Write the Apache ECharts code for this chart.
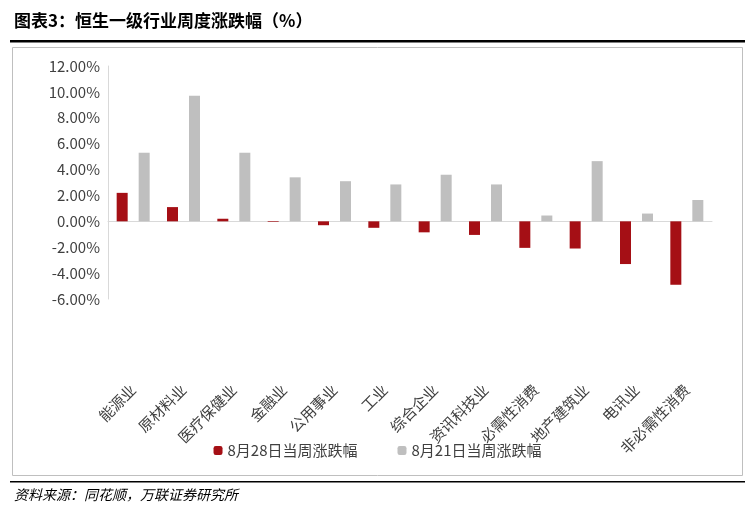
<!DOCTYPE html>
<html><head><meta charset="utf-8">
<script src="https://cdn.jsdelivr.net/npm/echarts@6/dist/echarts.min.js"></script>
<style>html,body{margin:0;padding:0;background:#fff}#c{width:755px;height:513px}</style>
</head><body><div id="c"></div>
<script>
const categories=['能源业','原材料业','医疗保健业','金融业','公用事业','工业','综合企业','资讯科技业','必需性消费','地产建筑业','电讯业','非必需性消费'];
const s828=[2.2,1.1,0.2,-0.05,-0.3,-0.5,-0.85,-1.05,-2.05,-2.1,-3.3,-4.9];
const s821=[5.3,9.7,5.3,3.4,3.1,2.85,3.6,2.85,0.45,4.65,0.6,1.65];
const chart=echarts.init(document.getElementById('c'));
const F='"Noto Sans CJK SC", sans-serif';
chart.setOption({
animation:false,
textStyle:{fontFamily:F},
graphic:[
{type:'text',left:14,top:12,style:{text:'图表3：恒生一级行业周度涨跌幅（%）',font:'bold 17px '+F,fill:'#000'}},
{type:'rect',shape:{x:10,y:40,width:735,height:2.5},style:{fill:'#000'}},
{type:'rect',shape:{x:12.5,y:47.5,width:730,height:428},style:{fill:'none',stroke:'#bfbfbf',lineWidth:1}},
{type:'rect',shape:{x:10,y:481,width:735,height:1.5},style:{fill:'#000'}},
{type:'text',left:14,top:488,style:{text:'资料来源：同花顺，万联证券研究所',font:'italic 14px '+F,fill:'#000'}}
],
grid:{left:108,right:43,top:66,bottom:214},
legend:{bottom:50,left:'center',itemGap:40,itemWidth:9,itemHeight:9,textStyle:{fontSize:15,color:'#404040',fontFamily:F},data:['8月28日当周涨跌幅','8月21日当周涨跌幅']},
xAxis:{type:'category',data:categories,axisTick:{show:false},axisLine:{lineStyle:{color:'#d9d9d9'}},
 axisLabel:{rotate:45,interval:0,fontSize:15,color:'#404040',margin:88}},
yAxis:{type:'value',min:-6,max:12,interval:2,splitLine:{show:false},axisLine:{show:true,lineStyle:{color:'#d9d9d9'}},
 axisLabel:{fontSize:15,color:'#404040',formatter:v=>v.toFixed(2)+'%'}},
series:[
{name:'8月28日当周涨跌幅',type:'bar',data:s828,barWidth:11,barGap:'100%',itemStyle:{color:'#a50f15'}},
{name:'8月21日当周涨跌幅',type:'bar',data:s821,barWidth:11,itemStyle:{color:'#bfbfbf'}}
]});
</script></body></html>
